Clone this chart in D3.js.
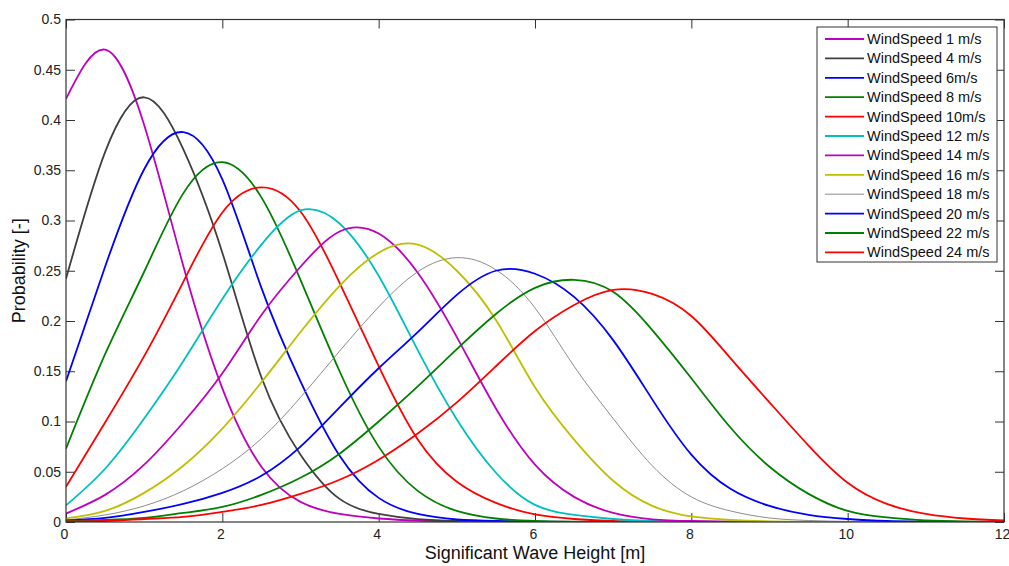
<!DOCTYPE html>
<html lang="en">
<head>
<meta charset="UTF-8">
<title>Wave height probability by wind speed</title>
<script src="https://d3js.org/d3.v7.min.js"></script>
<style>
    body { margin: 0; background: #fff; }
    svg { display: block; font-family: Arial, "Liberation Sans", sans-serif; }
    .axis text { font-size: 14px; fill: #222; }
    .axis line { stroke: #333; }
    .axis path { display: none; }
</style>
</head>
<body>
<svg width="1009" height="566"></svg>
<script>
// Significant wave height samples (m)
const waveHeights = [0, 0.5, 1, 1.5, 2, 2.5, 3, 3.5, 4, 4.5, 5, 5.5, 6, 6.5, 7, 7.5, 8, 8.5, 9, 9.5, 10, 10.5, 11, 11.5, 12];

const seriesNames = ["WindSpeed 1 m/s", "WindSpeed 4 m/s", "WindSpeed 6m/s", "WindSpeed 8 m/s", "WindSpeed 10m/s",
    "WindSpeed 12 m/s", "WindSpeed 14 m/s", "WindSpeed 16 m/s", "WindSpeed 18 m/s", "WindSpeed 20 m/s",
    "WindSpeed 22 m/s", "WindSpeed 24 m/s"];

// probability at each wave height
const ws1  = [0.421, 0.470, 0.395, 0.255, 0.133, 0.055, 0.020, 0.008, 0.0035, 0.0015, 0.0007, 0.0003, 0, 0, 0, 0, 0, 0, 0, 0, 0, 0, 0, 0, 0];
const ws4  = [0.242, 0.368, 0.4226, 0.371, 0.268, 0.144, 0.067, 0.023, 0.008, 0.0028, 0.001, 0.0004, 0, 0, 0, 0, 0, 0, 0, 0, 0, 0, 0, 0, 0];
const ws6  = [0.140, 0.254, 0.351, 0.388, 0.341, 0.233, 0.140, 0.066, 0.024, 0.008, 0.0025, 0.001, 0.0003, 0, 0, 0, 0, 0, 0, 0, 0, 0, 0, 0, 0];
const ws8  = [0.073, 0.167, 0.249, 0.327, 0.358, 0.323, 0.241, 0.150, 0.075, 0.031, 0.011, 0.0035, 0.001, 0.0003, 0, 0, 0, 0, 0, 0, 0, 0, 0, 0, 0];
const ws10 = [0.035, 0.099, 0.165, 0.239, 0.308, 0.333, 0.309, 0.238, 0.155, 0.082, 0.040, 0.019, 0.0075, 0.003, 0.001, 0.0004, 0, 0, 0, 0, 0, 0, 0, 0, 0];
const ws12 = [0.0166, 0.053, 0.103, 0.160, 0.222, 0.276, 0.310, 0.297, 0.245, 0.171, 0.102, 0.049, 0.017, 0.007, 0.003, 0.001, 0.0003, 0, 0, 0, 0, 0, 0, 0, 0];
const ws14 = [0.0084, 0.027, 0.057, 0.099, 0.148, 0.206, 0.254, 0.289, 0.287, 0.248, 0.184, 0.113, 0.057, 0.025, 0.009, 0.0027, 0.001, 0.0003, 0, 0, 0, 0, 0, 0, 0];
const ws16 = [0.0035, 0.011, 0.029, 0.056, 0.093, 0.139, 0.189, 0.235, 0.268, 0.276, 0.250, 0.201, 0.134, 0.082, 0.041, 0.016, 0.0055, 0.002, 0.0007, 0.0002, 0, 0, 0, 0, 0];
const ws18 = [0.002, 0.007, 0.016, 0.031, 0.053, 0.083, 0.124, 0.170, 0.214, 0.249, 0.263, 0.251, 0.213, 0.155, 0.103, 0.056, 0.025, 0.011, 0.004, 0.0015, 0.0005, 0.0002, 0, 0, 0];
const ws20 = [0.0015, 0.004, 0.010, 0.018, 0.029, 0.046, 0.075, 0.114, 0.153, 0.189, 0.226, 0.250, 0.247, 0.224, 0.181, 0.122, 0.067, 0.033, 0.016, 0.007, 0.003, 0.001, 0.0004, 0, 0];
const ws22 = [0.001, 0.002, 0.004, 0.009, 0.015, 0.027, 0.044, 0.068, 0.100, 0.135, 0.172, 0.207, 0.233, 0.241, 0.229, 0.191, 0.143, 0.094, 0.055, 0.028, 0.011, 0.0045, 0.0015, 0.0005, 0.0002];
const ws24 = [0.0005, 0.001, 0.003, 0.005, 0.010, 0.017, 0.028, 0.042, 0.062, 0.088, 0.119, 0.155, 0.190, 0.216, 0.231, 0.227, 0.205, 0.163, 0.119, 0.076, 0.039, 0.018, 0.008, 0.0035, 0.0015];

const allSeries = [ws1, ws4, ws6, ws8, ws10, ws12, ws14, ws16, ws18, ws20, ws22, ws24];
const colors = ["#bf00bf", "#404040", "#0000ff", "#008000", "#ff0000", "#00bfbf",
    "#bf00bf", "#bfbf00", "#8c8c8c", "#0000ff", "#008000", "#ff0000"];

const xTicks = [0, 2, 4, 6, 8, 10, 12];
const yTicks = [0, 0.05, 0.1, 0.15, 0.2, 0.25, 0.3, 0.35, 0.4, 0.45, 0.5];

const plotLeft = 66, plotRight = 1004, plotTop = 19.5, plotBottom = 522;
const svg = d3.select("svg");

const x = d3.scaleLinear().domain([0, 12]).range([plotLeft, plotRight]);
const y = d3.scaleLinear().domain([0, 0.5]).range([plotBottom, plotTop]);

svg.append("clipPath").attr("id", "plot-clip")
    .append("rect").attr("x", plotLeft).attr("y", plotTop)
    .attr("width", plotRight - plotLeft).attr("height", plotBottom - plotTop);

// axes with inward ticks on all four sides
svg.append("g").attr("class", "axis").attr("transform", `translate(0,${plotBottom})`)
    .call(d3.axisBottom(x).tickValues(xTicks).tickSize(-9).tickPadding(7).tickFormat(d => d))
    .selectAll("text").attr("dx", "-2");
svg.append("g").attr("class", "axis").attr("transform", `translate(0,${plotTop})`)
    .call(d3.axisTop(x).tickValues(xTicks).tickSize(-9).tickFormat(""));
svg.append("g").attr("class", "axis").attr("transform", `translate(${plotLeft},0)`)
    .call(d3.axisLeft(y).tickValues(yTicks).tickSize(-9).tickPadding(5).tickFormat(d => String(+d.toFixed(2))));
svg.append("g").attr("class", "axis").attr("transform", `translate(${plotRight},0)`)
    .call(d3.axisRight(y).tickValues(yTicks).tickSize(-9).tickFormat(""));

const line = d3.line()
    .x((d, i) => x(waveHeights[i]))
    .y(d => y(d))
    .curve(d3.curveNatural);

svg.append("g").attr("clip-path", "url(#plot-clip)")
    .selectAll("path").data(allSeries).join("path")
    .attr("d", line)
    .attr("fill", "none")
    .attr("stroke", (d, i) => colors[i])
    .attr("stroke-width", (d, i) => i === 8 ? 1 : 1.8);

// box
svg.append("rect")
    .attr("x", plotLeft).attr("y", plotTop)
    .attr("width", plotRight - plotLeft).attr("height", plotBottom - plotTop)
    .attr("fill", "none").attr("stroke", "#333").attr("stroke-width", 1.2);

// axis labels
svg.append("text").attr("x", (plotLeft + plotRight) / 2).attr("y", 559)
    .attr("text-anchor", "middle").attr("font-size", 18).attr("fill", "#111")
    .text("Significant Wave Height [m]");
svg.append("text").attr("transform", `translate(25,${(plotTop + plotBottom) / 2}) rotate(-90)`)
    .attr("text-anchor", "middle").attr("font-size", 18).attr("fill", "#111")
    .text("Probability [-]");

// legend
const legend = svg.append("g");
legend.append("rect").attr("x", 817).attr("y", 27).attr("width", 180).attr("height", 235)
    .attr("fill", "#fff").attr("stroke", "#333").attr("stroke-width", 1);
const rows = legend.selectAll("g.row").data(seriesNames).join("g")
    .attr("class", "row")
    .attr("transform", (d, i) => `translate(0,${39 + i * 19.4})`);
rows.append("line").attr("x1", 825).attr("x2", 864)
    .attr("stroke", (d, i) => colors[i])
    .attr("stroke-width", (d, i) => i === 8 ? 1 : 1.8);
rows.append("text").attr("x", 867).attr("y", 5)
    .attr("font-size", 14.5).attr("fill", "#111")
    .text(d => d);
</script>
</body>
</html>
